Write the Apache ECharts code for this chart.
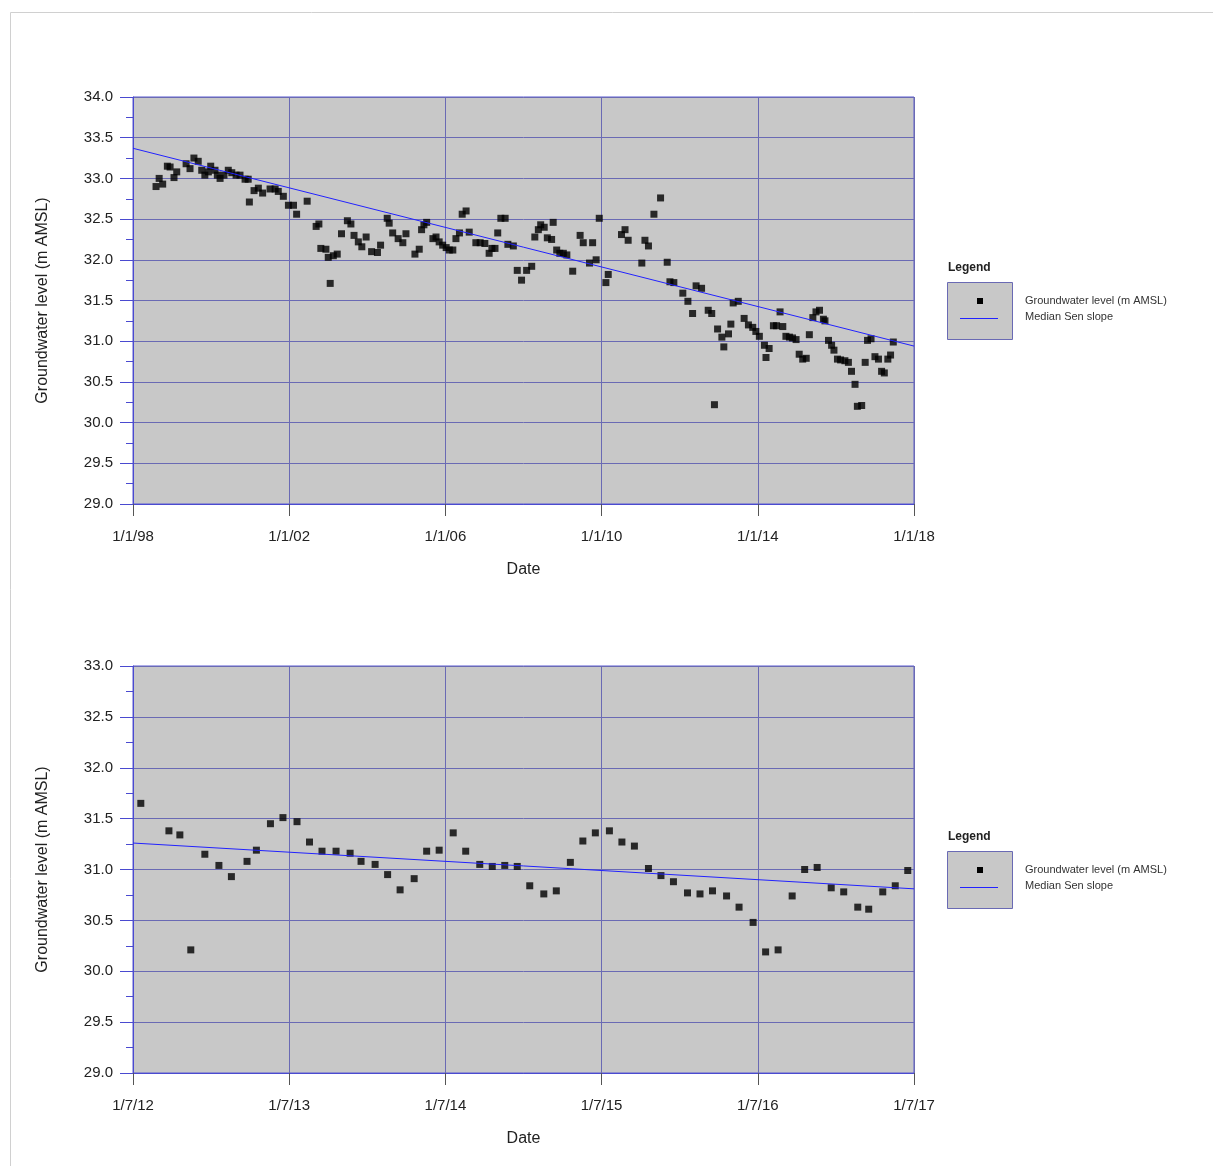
<!DOCTYPE html>
<html>
<head>
<meta charset="utf-8">
<script src="https://cdn.jsdelivr.net/npm/echarts@6/dist/echarts.min.js"></script>
<style>
  html, body { margin: 0; padding: 0; background: #fff; }
  #chart { width: 1213px; height: 1166px; }
</style>
</head>
<body>
<div id="chart"></div>
<script>
// full record, decimal years
var topYears = [1998.59,1998.67,1998.76,1998.88,1998.95,1999.05,1999.12,1999.36,1999.46,1999.56,
  1999.67,1999.76,1999.84,1999.93,1999.99,2000.10,2000.16,2000.23,2000.33,2000.44,
  2000.53,2000.64,2000.74,2000.87,2000.95,2000.98,2001.10,2001.21,2001.32,2001.51,
  2001.64,2001.72,2001.85,2001.98,2002.11,2002.19,2002.46,2002.69,2002.76,2002.81,
  2002.94,2003.00,2003.05,2003.13,2003.23,2003.34,2003.49,2003.58,2003.66,2003.77,
  2003.86,2003.97,2004.11,2004.26,2004.34,2004.51,2004.56,2004.65,2004.79,2004.91,
  2004.99,2005.22,2005.33,2005.39,2005.45,2005.52,2005.68,2005.76,2005.84,2005.93,
  2006.02,2006.10,2006.19,2006.27,2006.36,2006.43,2006.53,2006.61,2006.78,2006.89,
  2007.01,2007.12,2007.19,2007.27,2007.34,2007.42,2007.53,2007.60,2007.74,2007.84,
  2007.95,2008.08,2008.21,2008.29,2008.38,2008.44,2008.53,2008.61,2008.72,2008.76,
  2008.85,2008.93,2009.02,2009.11,2009.26,2009.45,2009.53,2009.69,2009.77,2009.86,
  2009.94,2010.11,2010.17,2010.51,2010.60,2010.68,2011.03,2011.11,2011.20,2011.34,
  2011.51,2011.68,2011.75,2011.85,2012.08,2012.21,2012.33,2012.42,2012.56,2012.73,
  2012.82,2012.89,2012.97,2013.08,2013.13,2013.25,2013.31,2013.37,2013.50,2013.65,
  2013.76,2013.87,2013.95,2014.04,2014.17,2014.21,2014.29,2014.40,2014.48,2014.57,
  2014.64,2014.72,2014.81,2014.89,2014.98,2015.06,2015.15,2015.24,2015.32,2015.41,
  2015.49,2015.58,2015.68,2015.72,2015.81,2015.89,2015.95,2016.04,2016.12,2016.23,
  2016.32,2016.40,2016.49,2016.55,2016.66,2016.75,2016.81,2016.90,2017.00,2017.09,
  2017.17,2017.24,2017.33,2017.40,2017.47];
var topLevels = [32.90,33.00,32.93,33.15,33.14,33.01,33.08,33.18,33.12,33.25,
  33.21,33.10,33.04,33.08,33.15,33.10,33.04,33.00,33.04,33.10,
  33.07,33.04,33.04,32.99,32.99,32.71,32.85,32.88,32.82,32.87,
  32.87,32.84,32.78,32.67,32.67,32.56,32.72,32.41,32.44,32.14,
  32.13,32.03,31.71,32.05,32.07,32.32,32.48,32.44,32.30,32.22,
  32.16,32.28,32.10,32.09,32.18,32.51,32.45,32.33,32.26,32.21,
  32.32,32.07,32.13,32.37,32.43,32.46,32.26,32.28,32.22,32.18,
  32.15,32.12,32.12,32.26,32.33,32.56,32.60,32.34,32.21,32.21,
  32.20,32.08,32.14,32.14,32.33,32.51,32.51,32.19,32.17,31.87,
  31.75,31.87,31.92,32.28,32.37,32.43,32.40,32.27,32.25,32.46,
  32.12,32.08,32.08,32.06,31.86,32.30,32.21,31.96,32.21,32.00,
  32.51,31.72,31.82,32.31,32.37,32.24,31.96,32.24,32.17,32.56,
  32.76,31.97,31.73,31.72,31.59,31.49,31.34,31.68,31.65,31.38,
  31.34,30.22,31.15,31.05,30.93,31.09,31.21,31.47,31.49,31.28,
  31.20,31.17,31.12,31.06,30.95,30.80,30.91,31.19,31.19,31.36,
  31.18,31.06,31.05,31.04,31.02,30.84,30.78,30.79,31.08,31.29,
  31.36,31.38,31.27,31.25,31.01,30.95,30.89,30.78,30.77,30.76,
  30.74,30.63,30.47,30.20,30.21,30.74,31.01,31.03,30.81,30.78,
  30.63,30.61,30.78,30.83,30.99];
var topTrendX = [1998, 2018];
var topTrendY = [33.37, 30.94];
var topDateLabels = ['1/1/98', '1/1/02', '1/1/06', '1/1/10', '1/1/14', '1/1/18'];

// last five years
var bottomYears = [2012.55,2012.73,2012.80,2012.87,2012.96,2013.05,2013.13,2013.23,2013.29,2013.38,
  2013.46,2013.55,2013.63,2013.71,2013.80,2013.89,2013.96,2014.05,2014.13,2014.21,
  2014.30,2014.38,2014.46,2014.55,2014.63,2014.72,2014.80,2014.88,2014.96,2015.04,
  2015.13,2015.21,2015.30,2015.38,2015.46,2015.55,2015.63,2015.71,2015.80,2015.88,
  2015.96,2016.05,2016.13,2016.21,2016.30,2016.38,2016.47,2016.55,2016.63,2016.72,
  2016.80,2016.88,2016.97,2017.05,2017.14,2017.21,2017.30,2017.38,2017.46];
var bottomLevels = [31.65,31.38,31.34,30.21,31.15,31.04,30.93,31.08,31.19,31.45,
  31.51,31.47,31.27,31.18,31.18,31.16,31.08,31.05,30.95,30.80,
  30.91,31.18,31.19,31.36,31.18,31.05,31.03,31.04,31.03,30.84,
  30.76,30.79,31.07,31.28,31.36,31.38,31.27,31.23,31.01,30.94,
  30.88,30.77,30.76,30.79,30.74,30.63,30.48,30.19,30.21,30.74,
  31.00,31.02,30.82,30.78,30.63,30.61,30.78,30.84,30.99];
var bottomTrendX = [2012.5, 2017.5];
var bottomTrendY = [31.26, 30.81];
var bottomDateLabels = ['1/7/12', '1/7/13', '1/7/14', '1/7/15', '1/7/16', '1/7/17'];

var seriesNames = ['Groundwater level (m AMSL)', 'Median Sen slope'];

var FONT = 'Liberation Sans, Arial, sans-serif';
var gridColor = '#6a6ab4';
var axisBlue = '#4a4ad0';

function pairs(xs, ys) {
  return xs.map(function (x, i) { return [x, ys[i]]; });
}

function xAxisFor(idx, min, max, interval, labels) {
  return {
    type: 'value', gridIndex: idx, min: min, max: max, interval: interval,
    name: 'Date', nameLocation: 'middle', nameGap: 58,
    nameTextStyle: { fontFamily: FONT, fontSize: 16, color: '#222' },
    axisLine: { show: true, onZero: false, lineStyle: { color: axisBlue } },
    axisTick: { show: true, length: 12, lineStyle: { color: '#555' } },
    axisLabel: {
      fontFamily: FONT, fontSize: 15, color: '#222', margin: 25,
      formatter: function (v) { return labels[Math.round((v - min) / interval)] || ''; }
    },
    splitLine: { show: true, lineStyle: { color: gridColor, width: 1 } }
  };
}

function yAxisFor(idx, min, max) {
  return {
    type: 'value', gridIndex: idx, min: min, max: max, interval: 0.5,
    name: 'Groundwater level (m AMSL)', nameLocation: 'middle', nameGap: 82,
    nameTextStyle: { fontFamily: FONT, fontSize: 16, color: '#222' },
    axisLine: { show: true, lineStyle: { color: axisBlue } },
    axisTick: { show: true, length: 13, lineStyle: { color: axisBlue } },
    minorTick: { show: true, splitNumber: 2, length: 7, lineStyle: { color: axisBlue } },
    axisLabel: {
      fontFamily: FONT, fontSize: 15, color: '#222', margin: 20,
      formatter: function (v) { return v.toFixed(1); }
    },
    splitLine: { show: true, lineStyle: { color: gridColor, width: 1 } }
  };
}

function legendGraphics(top) {
  return [
    { type: 'text', left: 948, top: top, style: { text: 'Legend', font: 'bold 12px ' + FONT, fill: '#222' } },
    { type: 'rect', shape: { x: 947.5, y: top + 20.5, width: 65, height: 57 },
      style: { fill: '#c8c8c8', stroke: '#6a6ab4', lineWidth: 1 } },
    { type: 'rect', shape: { x: 977, y: top + 36, width: 6, height: 6 }, style: { fill: '#000' } },
    { type: 'rect', shape: { x: 960, y: top + 56, width: 38, height: 1 }, style: { fill: '#2222ff' } },
    { type: 'text', left: 1025, top: top + 33, style: { text: seriesNames[0], font: '11px ' + FONT, fill: '#333' } },
    { type: 'text', left: 1025, top: top + 49, style: { text: seriesNames[1], font: '11px ' + FONT, fill: '#333' } }
  ];
}

var myChart = echarts.init(document.getElementById('chart'), null, { renderer: 'canvas' });

myChart.setOption({
  backgroundColor: '#ffffff',
  animation: false,
  grid: [
    { left: 133, top: 97, width: 781, height: 407, show: true, backgroundColor: '#c8c8c8',
      borderColor: '#5a5ad0', borderWidth: 1 },
    { left: 133, top: 666, width: 781, height: 407, show: true, backgroundColor: '#c8c8c8',
      borderColor: '#5a5ad0', borderWidth: 1 }
  ],
  xAxis: [
    xAxisFor(0, 1998, 2018, 4, topDateLabels),
    xAxisFor(1, 2012.5, 2017.5, 1, bottomDateLabels)
  ],
  yAxis: [
    yAxisFor(0, 29, 34),
    yAxisFor(1, 29, 33)
  ],
  graphic: [
    { type: 'rect', shape: { x: 10.5, y: 12.5, width: 1220, height: 1170 },
      style: { fill: 'none', stroke: '#d0d0d0', lineWidth: 1 } }
  ].concat(legendGraphics(262)).concat(legendGraphics(831)),
  series: [
    { name: seriesNames[0], type: 'scatter', xAxisIndex: 0, yAxisIndex: 0,
      symbol: 'rect', symbolSize: 7, itemStyle: { color: '#000' },
      data: pairs(topYears, topLevels) },
    { name: seriesNames[1], type: 'line', xAxisIndex: 0, yAxisIndex: 0,
      showSymbol: false, lineStyle: { color: '#2222ff', width: 1 },
      data: pairs(topTrendX, topTrendY) },
    { name: seriesNames[0], type: 'scatter', xAxisIndex: 1, yAxisIndex: 1,
      symbol: 'rect', symbolSize: 7, itemStyle: { color: '#000' },
      data: pairs(bottomYears, bottomLevels) },
    { name: seriesNames[1], type: 'line', xAxisIndex: 1, yAxisIndex: 1,
      showSymbol: false, lineStyle: { color: '#2222ff', width: 1 },
      data: pairs(bottomTrendX, bottomTrendY) }
  ]
});
</script>
</body>
</html>
